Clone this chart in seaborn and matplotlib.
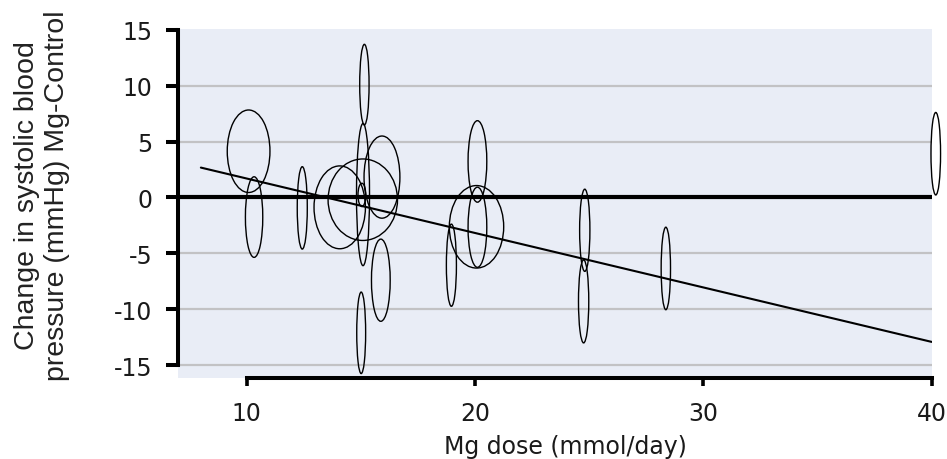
import matplotlib
matplotlib.use("Agg")
import matplotlib.pyplot as plt
from matplotlib.patches import Ellipse
import seaborn as sns
import pandas as pd

# --- data ---
dose = [10.09, 10.33, 12.44, 14.08, 15.09, 15.16, 15.10, 15.05, 15.02, 15.93,
        15.88, 18.97, 20.11, 20.07, 20.11, 24.81, 24.76, 28.36, 40.18]
change = [4.13, -1.75, -0.93, -0.88, -0.20, 10.08, 0.26, 0.23, -12.09, 1.82,
          -7.39, -6.05, 3.22, -2.62, -2.66, -2.93, -9.28, -6.34, 3.91]
ell_width = [1.87, 0.76, 0.44, 2.25, 3.04, 0.41, 0.57, 0.34, 0.39, 1.57,
             0.82, 0.44, 0.82, 2.38, 0.82, 0.45, 0.45, 0.41, 0.42]
ell_height = [7.37, 7.2, 7.36, 7.4, 7.28, 7.2, 12.7, 2.08, 7.28, 7.34,
              7.34, 7.34, 7.28, 7.37, 7.16, 7.34, 7.42, 7.37, 7.37]
line_dose = [8, 40]
line_change = [2.67, -12.9]
x_ticks = [10, 20, 30, 40]
y_ticks = [-15, -10, -5, 0, 5, 10, 15]
grid_levels = [-15, -10, -5, 5, 10]
x_label = "Mg dose (mmol/day)"
y_label = "Change in systolic blood\npressure (mmHg) Mg-Control"

sns.set_theme(style="white")
plt.rcParams['font.family'] = ['DejaVu Sans']
plt.rcParams['axes.unicode_minus'] = False

fig = plt.figure(figsize=(9.47, 4.6), dpi=100)
ax = fig.add_axes([0.188, 0.1767, 0.7958, 0.7581])
ax.set_facecolor('#e9edf6')

for yv in grid_levels:
    ax.axhline(yv, color='#c2c2c4', lw=1.6, zorder=1)
ax.axhline(0, color='black', lw=3, zorder=2)

df_line = pd.DataFrame({'dose': line_dose, 'change': line_change})
sns.lineplot(data=df_line, x='dose', y='change', color='black', lw=1.5,
             ax=ax, zorder=3)

for x, y, w, h in zip(dose, change, ell_width, ell_height):
    ax.add_patch(Ellipse((x, y), w, h, fill=False, edgecolor='black',
                         lw=1.0, zorder=4, clip_on=False))

ax.set_xlim(7, 40)
ax.set_ylim(-16.1, 15.05)
ax.set_xticks(x_ticks)
ax.set_yticks(y_ticks)

for s in ['top', 'right']:
    ax.spines[s].set_visible(False)
ax.spines['left'].set_bounds(-15, 15)
ax.spines['bottom'].set_bounds(10, 40)
for s in ['left', 'bottom']:
    ax.spines[s].set_linewidth(2.9)
    ax.spines[s].set_color('black')

ax.tick_params(axis='y', direction='out', length=8.6, width=2.9, pad=10,
               labelsize=17, colors='black', left=True)
ax.tick_params(axis='x', direction='out', length=5.8, width=2.6, pad=11,
               labelsize=17, colors='black', bottom=True)
for lab in ax.get_xticklabels() + ax.get_yticklabels():
    lab.set_color('#1a1a1a')

ax.set_xlabel(x_label, fontsize=17, color='#1a1a1a')
ax.xaxis.set_label_coords(0.5135, -0.162)
ax.set_ylabel(y_label, fontsize=20.5, color='#222222',
              family=['Liberation Sans', 'DejaVu Sans'], linespacing=1.2)
ax.yaxis.set_label_coords(-0.143, 0.524)

fig.savefig('out.png', dpi=100)
